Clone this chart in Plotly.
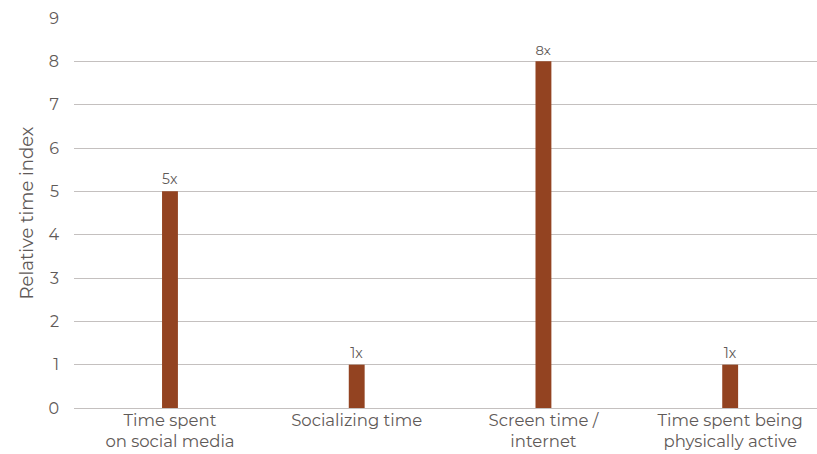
import plotly.graph_objects as go

categories = ["Time spent<br>on social media", "Socializing time",
              "Screen time /<br>internet", "Time spent being<br>physically active"]
values = [5, 1, 8, 1]
value_labels = ["5x", "1x", "8x", "1x"]
y_ticks = list(range(0, 10))

bar_color = "#934321"
text_color = "#5f5a58"
grid_color = "#c4c0bf"
font_family = "Montserrat, 'Open Sans', sans-serif"

x_pos = list(range(len(categories)))

fig = go.Figure(go.Bar(
    x=x_pos,
    y=values,
    width=0.085,
    marker=dict(color=bar_color, line=dict(width=0)),
    text=value_labels,
    textposition="outside",
    textfont=dict(size=14, color=text_color, family=font_family),
    cliponaxis=False,
))

fig.update_layout(
    width=817, height=454,
    margin=dict(l=74, r=0, t=18, b=46),
    plot_bgcolor="white", paper_bgcolor="white",
    font=dict(family=font_family, color=text_color),
    showlegend=False,
    xaxis=dict(
        range=[-0.514, 3.465],
        tickmode="array",
        tickvals=x_pos,
        ticktext=categories,
        tickfont=dict(size=16.5, color=text_color),
        showgrid=False, zeroline=False, showline=False,
        ticks="", ticklabelstandoff=0,
        automargin=False,
    ),
    yaxis=dict(
        range=[0, 9],
        tickvals=y_ticks,
        tickfont=dict(size=16, color=text_color),
        showgrid=True, gridcolor=grid_color, gridwidth=1,
        zeroline=True, zerolinecolor=grid_color, zerolinewidth=1,
        showline=False, ticks="", ticklabelstandoff=14,
        title=dict(text="Relative time index", font=dict(size=18, color=text_color), standoff=10),
        automargin=False,
    ),
)

fig.write_html("out.html")
